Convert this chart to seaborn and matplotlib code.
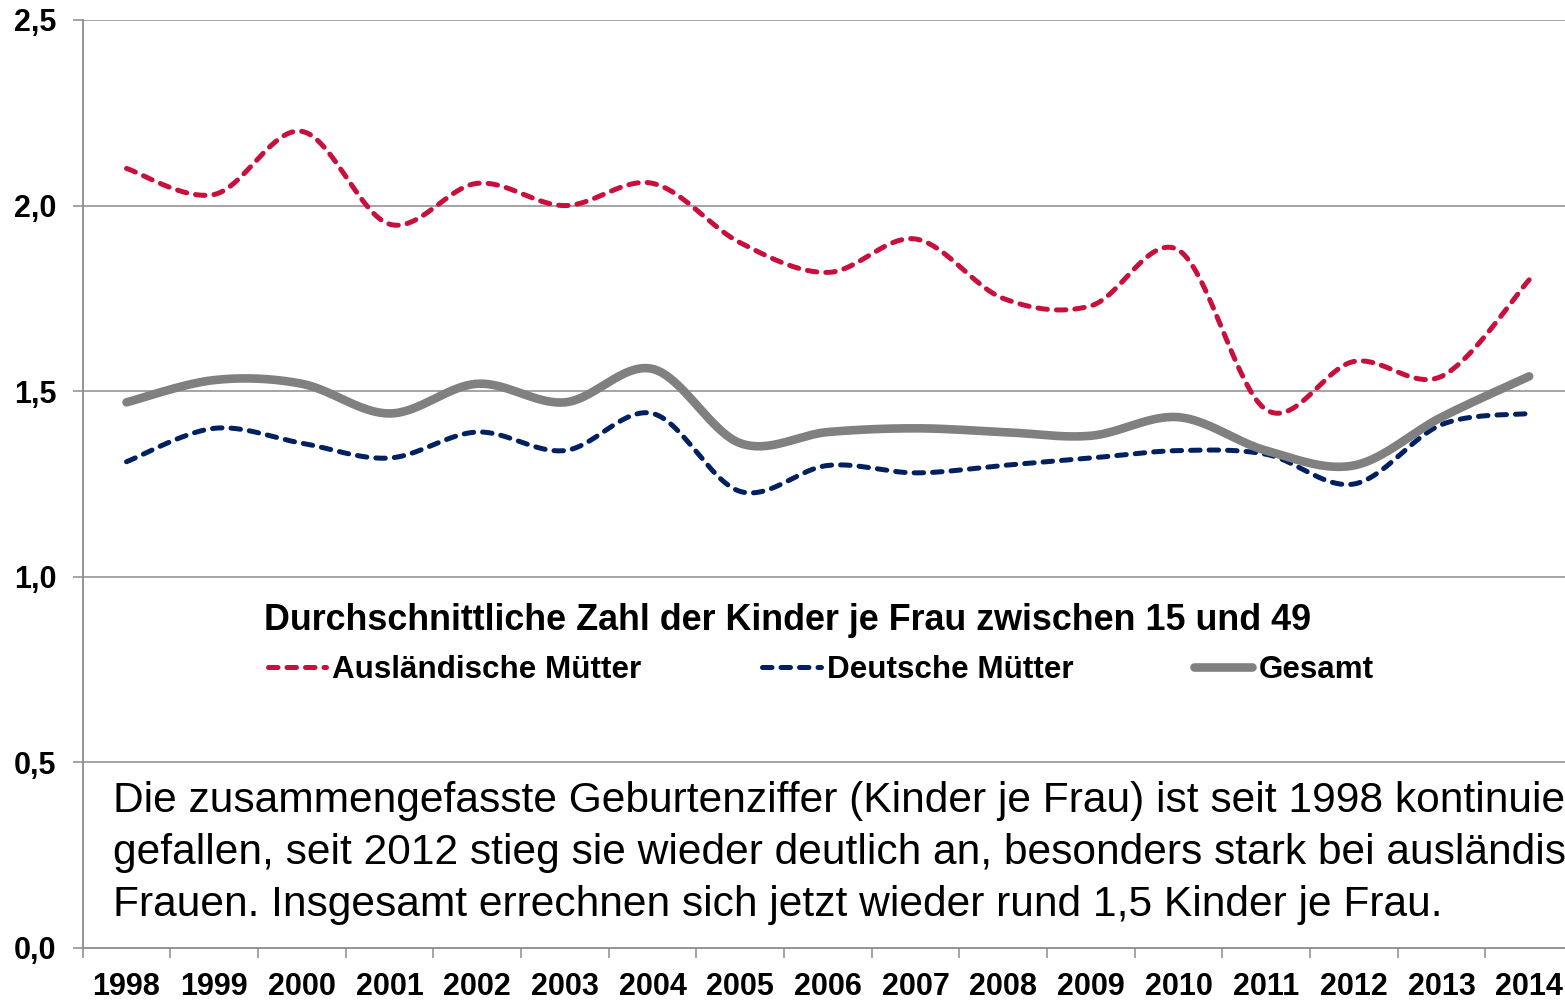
import numpy as np
import pandas as pd
import matplotlib
matplotlib.use("Agg")
import matplotlib.pyplot as plt
from matplotlib.lines import Line2D
import seaborn as sns

# ---------------- data ----------------
years = ["1998", "1999", "2000", "2001", "2002", "2003", "2004", "2005", "2006",
         "2007", "2008", "2009", "2010", "2011", "2012", "2013", "2014"]
auslaendisch = [2.10, 2.03, 2.20, 1.95, 2.06, 2.00, 2.06, 1.90, 1.82,
                1.91, 1.75, 1.73, 1.88, 1.45, 1.58, 1.54, 1.80]
deutsch = [1.31, 1.40, 1.36, 1.32, 1.39, 1.34, 1.44, 1.23, 1.30,
           1.28, 1.30, 1.32, 1.34, 1.33, 1.25, 1.41, 1.44]
gesamt = [1.47, 1.53, 1.52, 1.44, 1.52, 1.47, 1.56, 1.36, 1.39,
          1.40, 1.39, 1.38, 1.43, 1.34, 1.30, 1.43, 1.54]
y_ticks = [0.0, 0.5, 1.0, 1.5, 2.0, 2.5]
y_labels = ["0,0", "0,5", "1,0", "1,5", "2,0", "2,5"]
legend_title = "Durchschnittliche Zahl der Kinder je Frau zwischen 15 und 49"
series_names = ["Ausländische Mütter", "Deutsche Mütter", "Gesamt"]
note_lines = [
    "Die zusammengefasste Geburtenziffer (Kinder je Frau) ist seit 1998 kontinuierlich",
    "gefallen, seit 2012 stieg sie wieder deutlich an, besonders stark bei ausländischen",
    "Frauen. Insgesamt errechnen sich jetzt wieder rund 1,5 Kinder je Frau.",
]

RED = "#C8103C"
NAVY = "#002060"
GRAY = "#808080"
GRID = "#8C8C8C"


def smooth(xs, ys, n=40):
    """Excel-like smoothed line: cubic Bezier through the points (Catmull-Rom tangents)."""
    xs = np.asarray(xs, float)
    ys = np.asarray(ys, float)
    P = np.column_stack([xs, ys])
    out = []
    m = len(P)
    for i in range(m - 1):
        p0 = P[max(i - 1, 0)]
        p1 = P[i]
        p2 = P[i + 1]
        p3 = P[min(i + 2, m - 1)]
        c1 = p1 + (p2 - p0) / 6.0
        c2 = p2 - (p3 - p1) / 6.0
        t = np.linspace(0, 1, n, endpoint=(i == m - 2))[:, None]
        seg = ((1 - t) ** 3) * p1 + 3 * ((1 - t) ** 2) * t * c1 + 3 * (1 - t) * t ** 2 * c2 + t ** 3 * p2
        out.append(seg)
    out = np.vstack(out)
    return out[:, 0], out[:, 1]


sns.set_theme(style="white")
plt.rcParams["font.family"] = ["Liberation Sans", "DejaVu Sans"]
plt.rcParams["text.color"] = "black"
plt.rcParams["legend.labelcolor"] = "black"

W, H = 1565, 1000
fig = plt.figure(figsize=(W / 100, H / 100), dpi=100)
left_px, right_px, top_px, bottom_px = 82.7, 1573.0, 20.0, 948.0
ax = fig.add_axes([left_px / W, 1 - bottom_px / H,
                   (right_px - left_px) / W, (bottom_px - top_px) / H])
ax.set_facecolor("white")
fig.patch.set_facecolor("white")

xpos = np.arange(len(years))
series = [
    (auslaendisch, RED, 3.6, (1.9, 1.8)),
    (deutsch, NAVY, 3.6, (1.9, 1.8)),
    (gesamt, GRAY, 6.2, None),
]
for vals, col, lw, dash in series:
    sx, sy = smooth(xpos, vals)
    df = pd.DataFrame({"x": sx, "y": sy})
    before = len(ax.lines)
    sns.lineplot(data=df, x="x", y="y", ax=ax, color=col, linewidth=lw,
                 estimator=None, sort=False, zorder=3)
    ln = ax.lines[before]
    if dash is not None:
        ln.set_dashes(dash)
        ln.set_dash_capstyle("round")
    else:
        ln.set_solid_capstyle("round")

ax.set_xlim(-0.5, len(years) - 0.5)
ax.set_ylim(0, 2.5)
ax.set_xlabel("")
ax.set_ylabel("")

# grid
for yv in y_ticks[1:]:
    ax.axhline(yv, color=GRID, linewidth=1.1, zorder=1)

ax.set_yticks(y_ticks)
ax.set_yticklabels(y_labels, fontsize=22, fontweight="bold")
ax.set_xticks(xpos)
ax.set_xticklabels(years, fontsize=22, fontweight="bold")
ax.set_xticks(np.arange(len(years) + 1) - 0.5, minor=True)
ax.tick_params(axis="x", which="major", length=0, pad=17, colors="black")
ax.tick_params(axis="x", which="minor", length=7, width=1.1, color=GRID, direction="out", bottom=True)
ax.tick_params(axis="y", which="major", length=7, width=1.1, color=GRID, direction="out",
               pad=12, left=True, colors="black")
ax.tick_params(axis="y", which="major", color=GRID)
for lab in ax.get_yticklabels() + ax.get_xticklabels():
    lab.set_color("black")

for s in ["top", "right"]:
    ax.spines[s].set_visible(False)
for s in ["left", "bottom"]:
    ax.spines[s].set_color(GRID)
    ax.spines[s].set_linewidth(1.3)

# legend
fig.text(788 / W, 1 - 620 / H, legend_title, fontsize=25.8, fontweight="bold",
         ha="center", va="center", color="black")
handles = [
    Line2D([0], [0], color=RED, lw=3.6, dashes=(1.9, 1.8), dash_capstyle="round"),
    Line2D([0], [0], color=NAVY, lw=3.6, dashes=(1.9, 1.8), dash_capstyle="round"),
    Line2D([0], [0], color=GRAY, lw=6.2, solid_capstyle="round"),
]
leg = fig.legend(handles, series_names, loc="center left",
                 bbox_to_anchor=(268 / W, 1 - 670 / H), ncol=3, frameon=False,
                 prop={"size": 22.6, "weight": "bold"}, handlelength=1.85,
                 handletextpad=0.2, columnspacing=3.85, borderpad=0, borderaxespad=0,
                 labelcolor="black")

# note text
for i, line in enumerate(note_lines):
    fig.text(113 / W, 1 - (812 + 52 * i) / H, line, fontsize=30.6,
             ha="left", va="baseline", color="black")

fig.savefig("out.png", dpi=100, facecolor="white")
